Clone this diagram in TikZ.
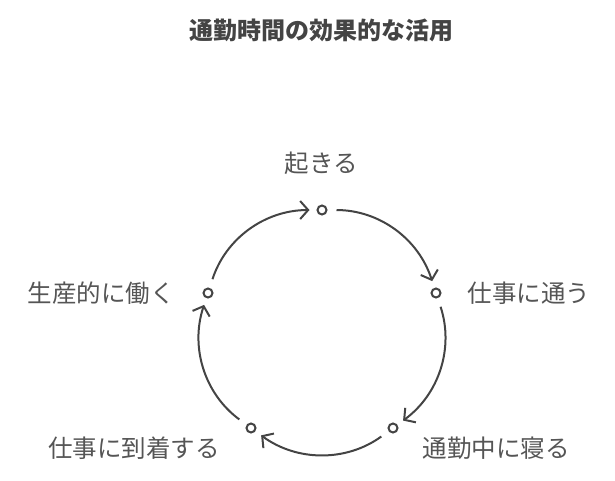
\documentclass[tikz,border=0pt]{standalone}
\usepackage{fontspec}
\newfontfamily\jp{Noto Sans CJK JP}
\usetikzlibrary{arrows.meta}
\definecolor{ink}{HTML}{444444}
\definecolor{txt}{HTML}{555555}
\begin{document}
\begin{tikzpicture}[
    x=1pt,y=-1pt,
    stop/.style={draw=ink,circle,fill=white,line width=2pt,inner sep=0pt,minimum size=9pt},
    lab/.style={text=txt,font=\jp\fontsize{24.5}{28}\selectfont},
    flow/.style={draw=ink,line width=2pt,bend left=36,shorten <=9pt,shorten >=7pt},
    >={Straight Barb[length=8pt,width=18pt]}
]
\useasboundingbox (0,0) rectangle (615,480);
\node[font=\jp\bfseries\fontsize{24}{28}\selectfont,text=ink] (title) at (321,30) {通勤時間の効果的な活用};

\node[stop] (wake) at (322,210) {};
\node[stop] (go) at (436,293) {};
\node[stop] (sleep) at (393,428) {};
\node[stop] (arrive) at (251,428) {};
\node[stop] (work) at (208,293) {};

\node[lab] (wakeT) at (321,163) {起きる};
\node[lab] (goT) at (529,293) {仕事に通う};
\node[lab] (sleepT) at (496,448) {通勤中に寝る};
\node[lab] (arriveT) at (134,448) {仕事に到着する};
\node[lab] (workT) at (101,293) {生産的に働く};

\draw[->,flow] (wake) to (go);
\draw[->,flow] (go) to (sleep);
\draw[->,flow] (sleep) to (arrive);
\draw[->,flow] (arrive) to (work);
\draw[->,flow] (work) to (wake);
\end{tikzpicture}
\end{document}
